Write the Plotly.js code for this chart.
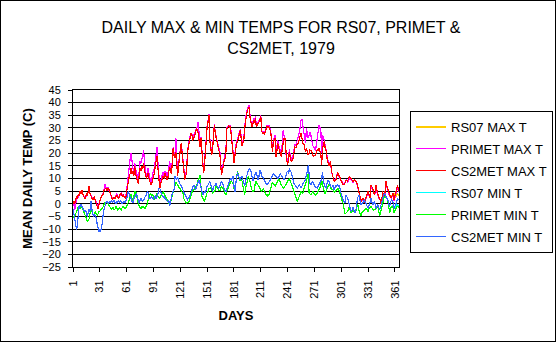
<!DOCTYPE html>
<html>
<head>
<meta charset="utf-8">
<script src="https://cdn.plot.ly/plotly-3.0.1.min.js"></script>
<style>
  html, body { margin: 0; padding: 0; background: #fff; }
  #wrap { position: absolute; left: 0; top: 0; width: 554px; height: 340px; border: 1px solid #000; background: #fff; }
  #chart { width: 554px; height: 340px; }
  #chart svg path { shape-rendering: crispEdges !important; }
  #chart path.ygrid { stroke: #000 !important; stroke-opacity: 1 !important; }
</style>
</head>
<body>
<div id="wrap"><div id="chart"></div></div>
<script>
// ---- categories ----
const dayTicks = [1, 31, 61, 91, 121, 151, 181, 211, 241, 271, 301, 331, 361];
const days = [];
for (let d = 1; d <= 365; d++) days.push(d);

const seriesNames = ["RS07 MAX T", "PRIMET MAX T", "CS2MET MAX T", "RS07 MIN T", "PRIMET MIN T", "CS2MET MIN T"];

// ---- RS07 (only a few days at year end) ----
const rs07MaxDays = [356, 357, 358, 359, 360, 361, 362, 363, 364, 365];
const rs07Max = [3, 2.5, 3.5, 4.2, 4, 3, 2.5, 3.5, 4, 3];
const rs07MinDays = [358, 359, 360, 361, 362, 363, 364, 365];
const rs07Min = [-1, -0.5, -2, -1.5, -1, 0, -0.5, -1];

// ---- PRIMET MAX T ----
const primetMax = [
-1,0,-2.4,1,2,2,3,4,4,5,
4.5,4,3,2.5,2,3.5,3.5,4.5,6,4,
3,2.5,2,1.5,2.5,1.5,0.5,-1,-1.5,0,
1.5,2,3,3.5,4.5,6,7.8,6.5,6,6.5,
5.5,5,4,3,2,2,2,2.5,3,4,
3,2.5,2.5,3.5,4.5,3.5,3,3,2.5,2.5,
6,9,13,16.7,18,20,15,14,13,16,
14,12,10,9,13,17,16,18,19,21.3,
16,14,11,12,14,12,9,8.5,10,12,
13,14,17,20,22.6,16,12,7,9,11,
12,12.5,11,13,12.5,11,11.5,14,16.7,15,
13,17,22.6,20,19,26,17,11,16,19,
22,24,21,17,13,10,12,13,21,24,
25,27,28,27.5,26,27,28,29,30,30.5,
32.5,26,23,26.5,22,17,13,16,22,27,
31,33,35.5,26,22,20,22,28,31.5,28.5,
27,25,23,22,21.5,16,12,14,16,18,
19,21.5,30,30.5,31,31,31,28,24,20,
17,20,24,25,25.5,27,28,29.5,27,24,
25,26,31,34.5,36,37.5,38.5,39,34.5,32.5,
31,32,34,33,34.5,31,31.5,32,33,33.5,
35,29,28.5,28.5,28,29,29.5,31,30.5,31,
30,29,26,21.5,25.5,26,27,20,22,25,
23,22.6,20,20,24,29,27,26,20,18,
16.5,19,21.5,19,17.5,18.5,19,21,23.5,23,
24,25.5,27,28,30.5,33,33.2,30,28.5,26,
24,29.9,28,25.9,27,28.5,27,24,23,22.6,
22,21,23,25.9,28,31,29.5,30.5,20,27,
26,25,23,21,18.7,17,15.5,16,16.7,12.7,
11,10,9,9.5,10,11.5,12.4,11,10.5,10,
9,8.5,8,7.5,8.5,9,9.5,8.5,9.5,10,
10,9.5,9,8.5,9,9.5,9,8.5,7,5,
3.6,2.5,1,1,2,1.5,0.5,1.5,3,3.5,
4,3,2.5,6,6.5,5.5,4.5,3.5,4.5,6.5,
4.5,3,2,2,1,0,3.5,3,2.5,4.5,
7,6.5,5,4,3,2.5,2,3,4,1,
2.5,4,5.5,6.5,4.5
];

// ---- CS2MET MAX T ----
const cs2metMax = [
0,1,0,2,3,2,4,3,5,4,
5.5,4,3,2,2.5,4,3,5,7,4,
3,2,1.5,2,3,1,0,-1,-2,-0.5,
1,2,3.5,3,5,5.5,6,6,5,6,
6,5,4.5,3,1.5,2,2.5,2,3,3.5,
2.5,2,3,4,4,3,3.5,3,2.5,2,
5,7.5,9,11,12,14,12,13,11,15,
12,10,9,8,11,14,13,15,14,16,
13,12,10,11,12,10,8,7.5,8,9.5,
11,12,15,17,19,14,10,6,8,9.5,
10,11,10,12,11,9.5,10,13,14.5,13,
12,16,22,19,18,20.5,15,11,15,18.7,
21,24,20,16,12,9.5,11,12,20.6,23,
24.6,26,28,27,25,26,27,28,30,29,
28,25,22.6,26,21,16,12,15,21,26,
30.5,32.5,35,25,21,19.3,21,27,31,28,
26,24,22,21,20.6,15.4,11.5,13,15.4,17,
18,20.6,29.9,30,31,30,30.5,27,22.6,19,
16,19,23,24,24.5,26.5,27,29,26,23,
24,25,30,33.8,35,37,38,38.4,33.8,32,
30.5,31.5,33,32,33.8,30.5,31,31.5,32.5,33,
34.5,28.5,28,28,27.5,28.5,29,30.5,30,30.5,
29.5,28.5,25,20.6,24.6,25,26,18.7,21,24,
22,20.6,19,18.7,22,24,25.9,25.9,18.7,17,
15.4,18,20.6,18,16.7,17,18,20,22.6,22,
23,24,24,26,27,28,25.9,24,24,22,
20.6,22,21,19.3,20,21.3,21,20.6,19.5,18.7,
19,19.3,20,21.3,21,22,21,20,15.4,22,
23,24.6,22,21,18,16,15,15.5,16.7,13,
11,10.2,8.8,9,9.5,11,12.4,11.5,11,10,
9,8,7.5,7.5,8,9.5,9,8.8,10,10.8,
10.5,10,9,8.8,9,9.5,9,8.8,7.5,6,
4.9,3,0.9,1.5,2.2,1.5,0.3,2,3.6,4,
4.9,3.5,2.2,7.5,7,6.2,5,3.6,5,7.5,
5,2.9,2.5,2.2,1,-0.6,4.9,3.5,2.2,5,
8.8,7,5.5,4.5,3.6,3,2.2,3.5,4.2,1.6,
3,4.9,6,7.5,5
];

// ---- PRIMET MIN T ----
const primetMin = [
-5,-5.5,-5,-4,-3,-2,-1,-1.5,-2,-1.5,
-1.5,-2,-3,-4,-5,-6,-7,-6.5,-6,-4,
-2,-3,-4,-5,-4.5,-3,-4,-4.5,-4,-3,
-3,-2.5,-2,-1.5,-1,0,0.5,0.3,0.5,0.3,
-0.5,-1,-2,-2.4,-1.5,-1.5,-2.4,-2,-1,-1.5,
-2.4,-2,-1.5,-2,-2.4,-1.5,-1,-1.5,-2,-1.8,
-1,0,1,1.5,3,4,2,1,3,4.9,
5,3,2,0,-1,-1.5,-2,-1.1,-1.5,-1,
-2,-1.5,-1,0,1.5,2,3.6,4,3,3.5,
3,1.5,2.5,3,4,3,2.5,2,3,4,
4.2,4.5,4,3.5,2.5,2,1,0.5,-0.5,0.5,
2,3,4,6,8,8.5,8,7.5,7,6.5,
6,5.5,5,4,2,1,0.5,0.3,0.3,0.5,
1,2,3,4.5,6,5.5,6,6.5,7,8,
9.5,10,11.4,6,3,2.5,1.5,0.9,2,3.5,
4.5,5,6,6,6.5,6.2,4,4.5,5,5.5,
7,6.5,6,5.5,5,6,7,6.5,6,5,
4,3.5,5,6,7,8,8.5,9,8.5,8,
6,5,8,11,12.9,11,10,9,9.5,9,
7,5,3.6,6,8,9.5,11,10,8,7,
5.5,4.8,5,6,9,8.5,8,7.5,7,6.5,
5.5,4.8,5.5,6,5,4,3.5,3.5,3,3.5,
5,6,7,8.5,8,7.5,7,7.5,8.5,9,
9.5,9.5,8,7.5,7,6.2,6.5,7,7.5,8,
9,9.5,10,9,8,7,6,5.5,4.8,3,
1.5,0.9,2,3,4,4.8,4.5,4,5.5,7.5,
8,9,10.5,12.1,4.2,3.8,3.6,4,5,4.2,
3.6,3.5,3.6,4,5,5.5,6,7,9.5,7,
6,4.9,4,5,6,7,7.5,7.5,6.5,5.5,
5.5,5.5,4.5,4.8,5,5.5,6.2,5.5,5,3.5,
2,1,0.3,-2,-3.7,-3.7,-3.5,-3,-2,-1,
-2.5,-3.7,-3,-2,-3,-3.7,-3,-2,0,-1,
-3,-4,-4.6,-3.5,-3,-2.5,-2.4,-2,-2,-2.5,
-3,-2,-1.5,-1,-1.5,-2,-2.5,-2.4,-2,-2,
-1.5,-1.5,-3,-4.6,-3,-2,-0.5,1,3,2.5,
2.9,2,1,-1,-3.7,-2.5,-1,-1,-1.5,-3.7,
-2.5,-2,-1,-1,-1.5
];

// ---- CS2MET MIN T ----
const cs2metMin = [
-2,-4,-6,-8,-10.3,-8,-3,-0.5,-1,0,
-1,-1.5,-2,-3,-2.5,-4,-5,-3.5,-2,-3,
1,-2,-4,-5,-4,-4.5,-5.5,-8,-9.5,-10.9,
-10.3,-10.9,-9,-7,-3,-1.5,0,0.5,1,0.5,
0,1,0.5,1.5,0.5,1,1.5,0.5,0,1,
0.5,1,0.5,1.5,1,0,0.5,1,0.5,1,
1.6,4,5,3.5,3,2,1,0.5,2,3,
3.5,4,3,1,0.5,1.5,2,1.5,1,1.5,
2.5,3,3.5,4.8,4.5,2.2,2,2.5,2.8,2.5,
1.5,2.8,3,2,3,4,6,6.2,5,3.6,
3,2.5,3,2,1.5,0.9,0.8,1.5,-1,1,
3,4,4.9,5.5,10.8,10,9.5,10.5,9.5,8,
7.5,7,6.2,5,4.2,3.5,3,2,1.6,2,
2.5,3.5,4.7,6,7,7.5,6,5.5,6.5,8,
8.5,9.5,8,7,5,3.6,4,5,4.5,6,
7,7.5,8.5,8.8,7.5,7,4.7,6,7.5,7,
8,7,6.5,6,7,8,8.8,8,7.5,6,
5,4.7,6,7.5,8,9,10,9.5,10,10.8,
7,4.7,8,10,12.4,11,10,9.5,10.5,11,
9.5,8,7,9,11.4,12,13,14,13.5,13,
11,9,10,11.5,12,12.4,11,9.5,11,13.4,
12.5,11,10.8,10,9,8.5,8,7.5,8,8.5,
8.8,9.5,10.5,11.4,12,11.5,11,10.8,10.5,10,
10.5,11.4,12,11,10.8,10,9.5,10.1,10.8,12.4,
13,12,13.9,13,12.4,11,9,8,7.5,7,
6.5,6.2,7,7.5,7,6.2,7,8,8.5,8.8,
10,11.4,13,15.3,9,8,7.5,8,9,8,
7,6.5,6.5,6.2,7,7.5,8,8.8,10,12.4,
9,7.5,6.5,6.2,8,9.5,9,8,7,6.2,
7,7.5,5.5,6.5,7.5,7,7.5,7,7,5,
3.6,2.5,1.6,1,0.3,3.6,3,2.2,1,-0.4,
-1.5,-3,-2.5,-1.5,-2.5,-3.7,-2.5,-1.5,2.2,3,
3.6,1,-0.4,0,0.3,1,1.6,0.5,-0.4,-1,
-1.8,-0.5,0.3,2.2,1,-0.4,0,0.9,-0.5,-1.8,
-1,-0.4,-1.5,-2.4,-1,0.3,1.6,3,4.2,3.5,
2.9,2,1.6,0,-1.1,0.5,1.6,1,0.3,-1.8,
-0.5,0.3,1,2.2,1.5
];

const colors = ["#FFCC00", "#FF00FF", "#FF0000", "#00FFFF", "#00FF00", "#3366FF"];
const xs = [rs07MaxDays, days, days, rs07MinDays, days, days];
const ys = [rs07Max, primetMax, cs2metMax, rs07Min, primetMin, cs2metMin];

const traces = seriesNames.map((name, i) => ({
  type: "scatter",
  mode: "lines",
  name: name,
  x: xs[i],
  y: ys[i],
  line: { color: colors[i], width: 1.2 },
  legendgroup: "g" + i,
  hoverinfo: "skip"
}));

const W = 554, H = 340;
const layout = {
  width: W, height: H,
  margin: { l: 72, r: 156, t: 89, b: 74, pad: 0 },
  paper_bgcolor: "#ffffff",
  plot_bgcolor: "#ffffff",
  font: { family: "Arial, 'Liberation Sans', sans-serif", color: "#000", size: 11 },
  title: {
    text: "DAILY MAX & MIN TEMPS FOR RS07, PRIMET &<br>CS2MET, 1979",
    font: { size: 16, color: "#000" },
    xref: "container", x: 280 / W, xanchor: "center",
    yref: "container", y: 1 - 32 / H, yanchor: "top"
  },
  xaxis: {
    range: [1, 365.5],
    tickmode: "array",
    tickvals: dayTicks,
    ticktext: dayTicks.map(String),
    tickangle: -90,
    ticks: "outside", ticklen: 4, tickcolor: "#000", tickwidth: 1,
    ticklabelstandoff: 4,
    showline: true, linecolor: "#000", linewidth: 1, mirror: true,
    showgrid: false, zeroline: false,
    tickfont: { size: 11 },
    title: { text: "<b>DAYS</b>", font: { size: 13 }, standoff: 13 }
  },
  yaxis: {
    range: [-25, 45],
    tick0: -25, dtick: 5,
    ticks: "outside", ticklen: 4, tickcolor: "#000", tickwidth: 1,
    ticklabelstandoff: 5,
    showline: true, linecolor: "#000", linewidth: 1, mirror: true,
    showgrid: true, gridcolor: "#000000", gridwidth: 1,
    zeroline: false,
    tickfont: { size: 11 },
    title: { text: "<b>MEAN DAILY TEMP (C)</b>", font: { size: 13 }, standoff: 6 }
  },
  showlegend: true,
  legend: {
    xref: "container", x: 409 / W, xanchor: "left",
    yref: "container", y: 1 - 110 / H, yanchor: "top",
    bgcolor: "#fff", bordercolor: "#000", borderwidth: 1,
    font: { size: 13, color: "#000" },
    traceorder: "grouped", tracegroupgap: 2,
    itemwidth: 30
  }
};

Plotly.newPlot("chart", traces, layout, { staticPlot: true, displayModeBar: false });
</script>
</body>
</html>
